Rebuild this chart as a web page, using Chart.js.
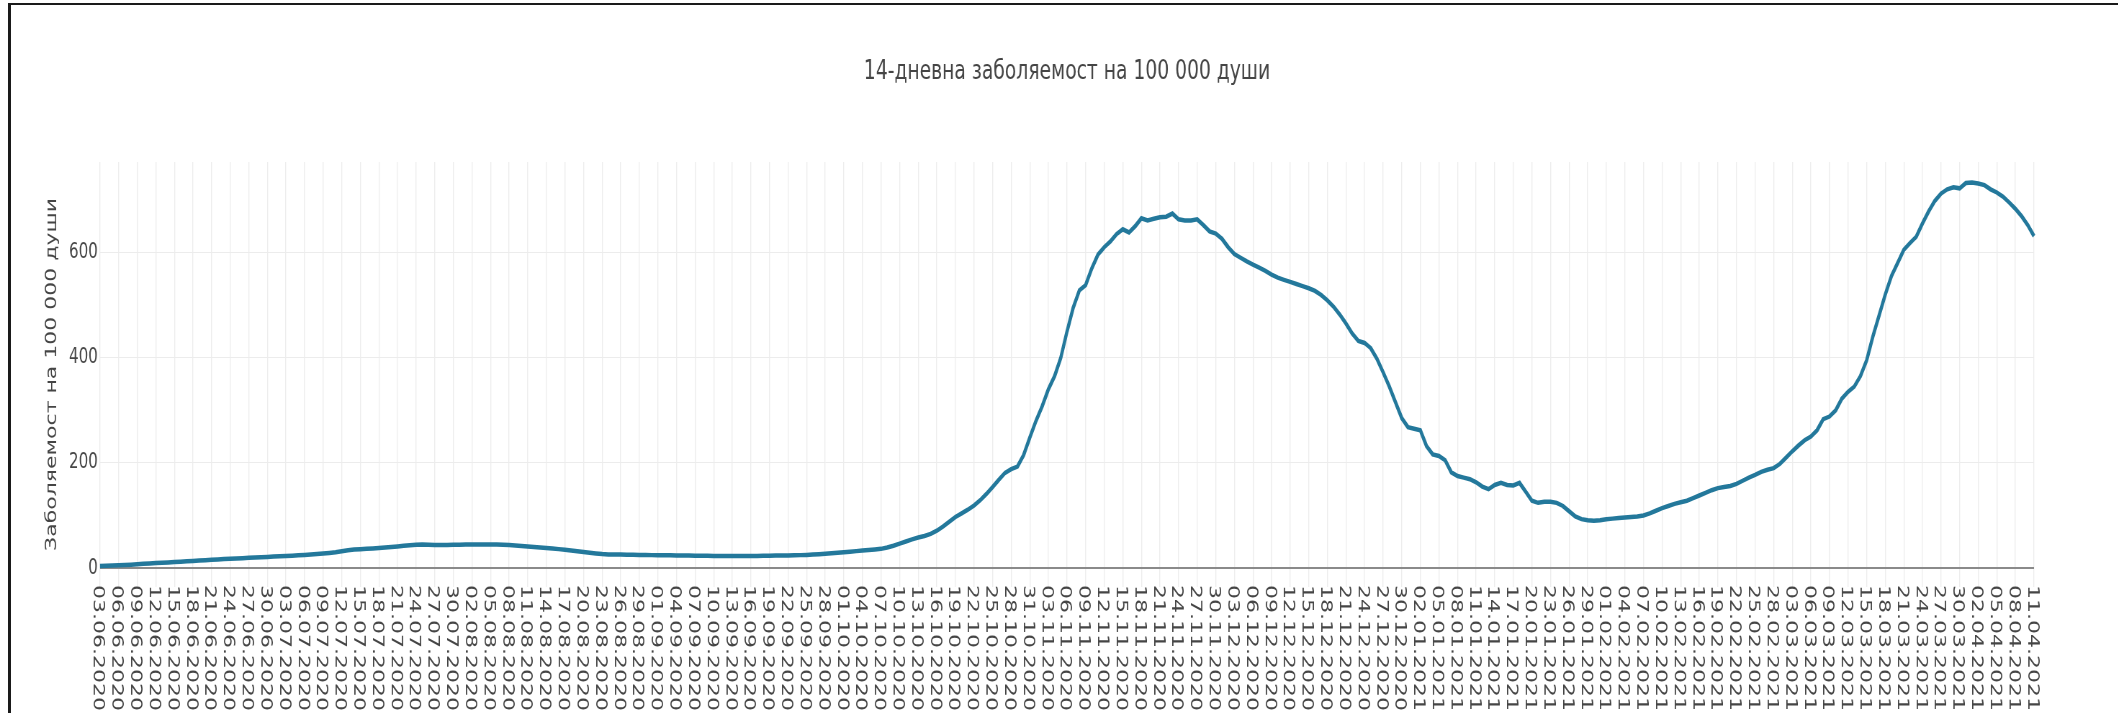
<!DOCTYPE html>
<html>
<head>
<meta charset="utf-8">
<title>14-дневна заболяемост</title>
<script src="https://cdn.jsdelivr.net/npm/chart.js@4.4.1/dist/chart.umd.min.js"></script>
<style>
  html, body { margin: 0; padding: 0; background: #fff; overflow: hidden; width: 2118px; height: 713px; }
  /* the reference picture is squeezed horizontally, so draw wide and squeeze */
  #wrap { position: absolute; left: 0; top: 0; width: 2942px; height: 713px; transform: scaleX(0.72); transform-origin: 0 0; }
  #frame { position: absolute; left: 8px; top: 3px; right: 0; bottom: 0; border-top: 2px solid #1a1a1a; border-left: 3px solid #1a1a1a; pointer-events: none; }
</style>
</head>
<body>
<div id="wrap"><canvas id="chart" width="2942" height="713"></canvas></div>
<div id="frame"></div>
<script>
// daily dates 03.06.2020 .. 11.04.2021
const dates = [];
for (let d = new Date(2020, 5, 3); d <= new Date(2021, 3, 11); d.setDate(d.getDate() + 1)) {
  dates.push(String(d.getDate()).padStart(2, '0') + '.' + String(d.getMonth() + 1).padStart(2, '0') + '.' + d.getFullYear());
}
// every third date is labelled
const tickLabels = dates.filter((d, i) => i % 3 === 0);
const yTicks = [0, 200, 400, 600];

// 14-day incidence per 100 000
const june = [4.0,4.3,4.7,5.2,5.8,6.5,7.2,8.0,8.7,9.4,10.1,10.8,11.5,12.2,12.9,13.6,14.3,15.0,15.7,16.4,17.0,17.6,18.2,18.8,19.4,20.0,20.6,21.2];
const july = [21.8,22.4,23.0,23.6,24.3,25.0,25.8,26.6,27.5,28.6,30.0,32.0,34.0,35.3,36.0,36.6,37.3,38.2,39.2,40.2,41.2,42.2,43.2,44.2,44.8,44.5,44.0,43.8,44.0,44.3,44.5];
const august = [44.7,44.8,44.9,44.9,44.8,44.6,44.3,43.8,43.0,42.0,41.0,40.0,39.0,38.0,37.0,36.0,34.8,33.4,32.0,30.6,29.2,27.8,26.6,26.0,25.8,25.6,25.4,25.2,25.0,24.8,24.6];
const september = [24.4,24.3,24.2,24.0,23.9,23.8,23.6,23.4,23.2,23.0,22.9,22.8,22.8,22.8,22.9,23.0,23.1,23.3,23.5,23.7,23.9,24.1,24.3,24.6,25.0,25.6,26.4,27.3,28.2,29.2];
const october = [30.2,31.2,32.2,33.2,34.2,35.3,36.5,39.0,42.5,46.5,50.5,54.5,58,61,65,71,79,88,97,104,111,119,129,141,154,168,181,188,193,215,248];
const november = [280,308,340,365,400,450,495,528,538,570,596,610,621,635,644,638,650,665,661,664,667,668,674,663,661,661,663,652,640,636];
const december = [626,610,597,590,583,577,571,565,558,552,548,544,540,536,532,527,519,509,497,482,465,446,432,428,418,398,372,345,315,285,268];
const january = [265,262,232,216,213,205,182,175,172,169,163,155,150,158,162,158,157,162,145,128,124,126,126,124,118,108,98,93,91,90,91];
const february = [93,94,95,96,97,98,100,104,109,114,118,122,125,128,133,138,143,148,152,154,156,160,166,172,177,183,187,190];
const march = [198,210,222,233,243,250,262,283,288,300,322,335,345,365,395,440,480,520,555,580,605,618,630,655,678,698,712,720,724,722,732];
const april = [733,731,728,720,714,706,695,683,669,652,631];
const incidence = [].concat(june, july, august, september, october, november, december, january, february, march, april);

const SX = 0.72;             // horizontal squeeze of the wrapper
const px = v => v / SX;      // picture x -> canvas x
const textColor = '#454545';
const font = '"DejaVu Sans", Verdana, sans-serif';

const titlePlugin = {
  id: 'titleText',
  afterDraw(chart) {
    const ctx = chart.ctx;
    ctx.save();
    ctx.font = '26px ' + font;
    ctx.fillStyle = textColor;
    ctx.textAlign = 'center';
    ctx.textBaseline = 'middle';
    ctx.fillText('14-дневна заболяемост на 100 000 души', px(1067), 72);
    ctx.restore();
  }
};

// x labels read top to bottom (rotated clockwise)
const dateLabels = {
  id: 'dateLabels',
  afterDraw(chart) {
    const {ctx, scales: {x}} = chart;
    ctx.save();
    ctx.font = '22px ' + font;
    ctx.fillStyle = textColor;
    ctx.textAlign = 'left';
    ctx.textBaseline = 'middle';
    tickLabels.forEach((lab, k) => {
      ctx.save();
      ctx.translate(x.getPixelForValue(k * 3) - px(2), 585);
      ctx.rotate(Math.PI / 2);
      ctx.fillText(lab, 0, 0);
      ctx.restore();
    });
    ctx.restore();
  }
};

new Chart(document.getElementById('chart'), {
  type: 'line',
  data: {
    labels: dates,
    datasets: [{
      data: incidence,
      borderColor: '#23789b',
      borderWidth: 4.5,
      pointRadius: 0,
      tension: 0,
      fill: false
    }]
  },
  options: {
    responsive: false,
    animation: false,
    layout: { padding: { left: 0, right: 2942 - px(2034), top: 162, bottom: 0 } },
    plugins: { legend: { display: false }, tooltip: { enabled: false } },
    scales: {
      x: {
        ticks: { display: false, autoSkip: false },
        grid: {
          color: c => c.index % 3 === 0 ? '#ededed' : 'rgba(0,0,0,0)',
          lineWidth: 1.4,
          drawTicks: false
        },
        border: { display: false },
        afterFit: s => { s.height = 713 - 587; }
      },
      y: {
        min: -36,
        max: 772,
        afterBuildTicks: s => { s.ticks = yTicks.map(v => ({ value: v })); },
        ticks: { color: textColor, font: { family: font, size: 21 }, padding: 3 },
        grid: {
          color: c => c.tick && c.tick.value === 0 ? '#8a8a8a' : '#ececec',
          lineWidth: c => c.tick && c.tick.value === 0 ? 2 : 1,
          drawTicks: false
        },
        border: { display: false },
        title: {
          display: true,
          text: 'Заболяемост на 100 000 души',
          color: textColor,
          font: { family: font, size: 22 },
          padding: { top: px(52) - 13.2, bottom: 0 }
        },
        afterFit: s => { s.width = px(100); }
      }
    }
  },
  plugins: [titlePlugin, dateLabels]
});
</script>
</body>
</html>
